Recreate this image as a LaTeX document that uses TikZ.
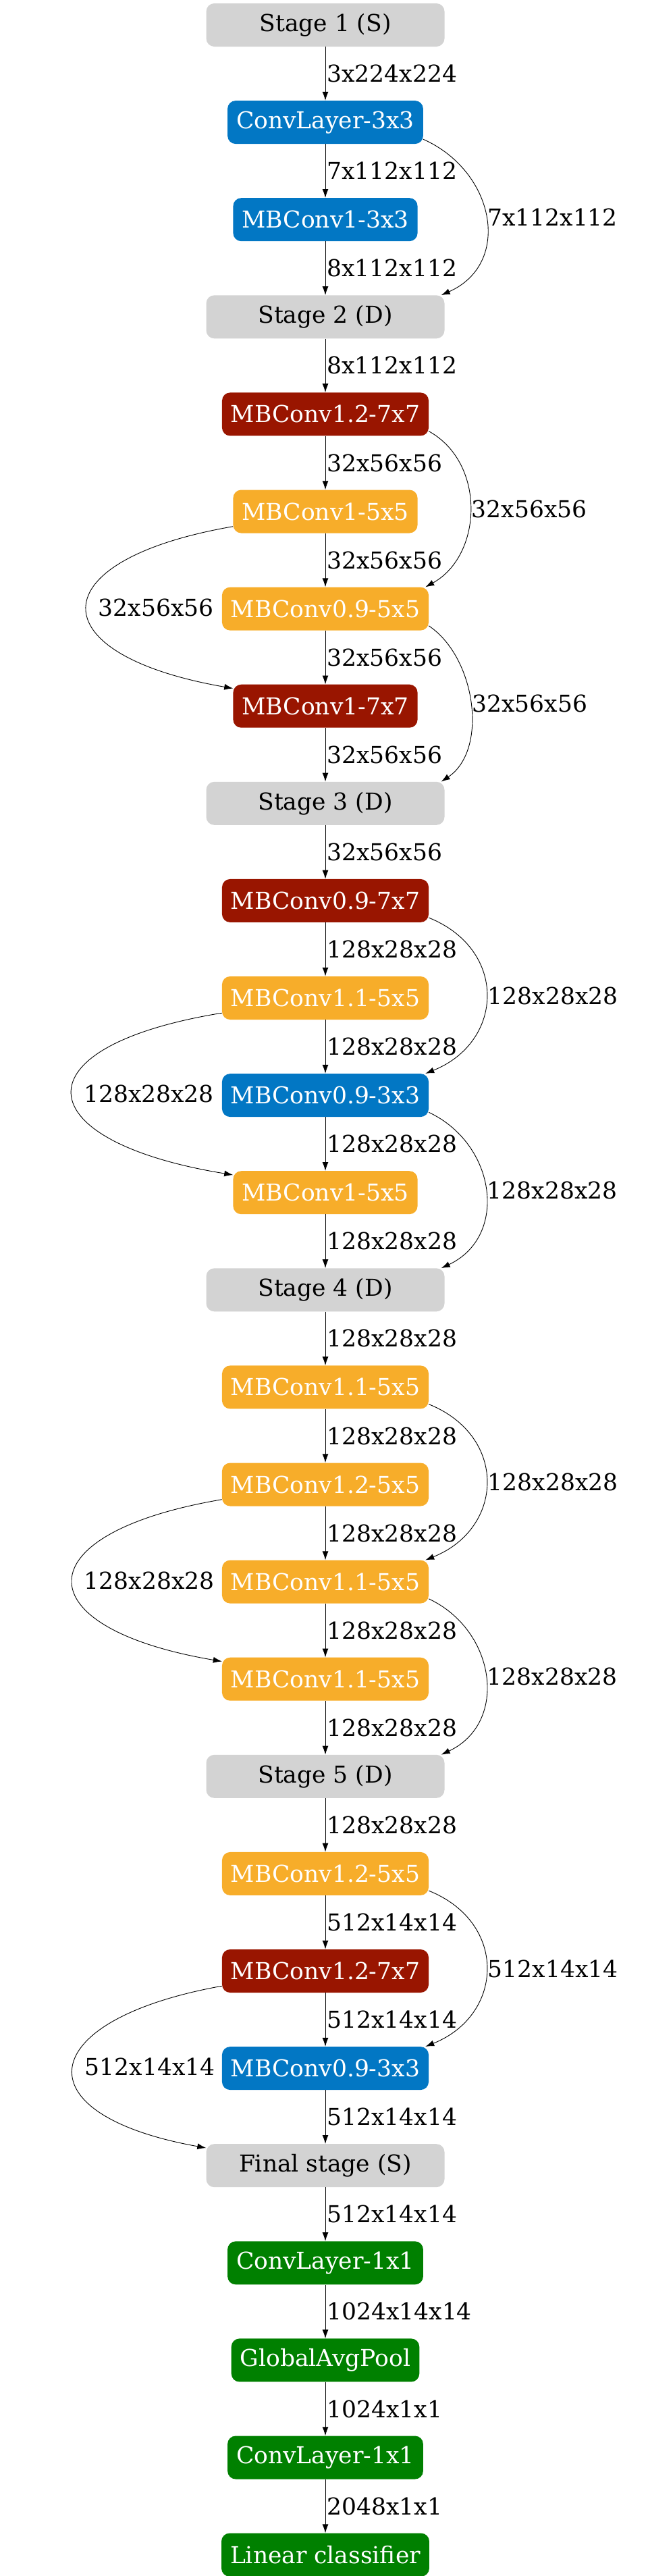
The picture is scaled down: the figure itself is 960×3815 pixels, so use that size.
\documentclass[tikz,border=0pt]{standalone}
\usepackage{fontspec}
\setmainfont{DejaVu Serif}
\usetikzlibrary{arrows.meta}
\definecolor{stagegray}{RGB}{211,211,211}
\definecolor{convblue}{RGB}{2,119,196}
\definecolor{convred}{RGB}{153,21,0}
\definecolor{convorange}{RGB}{247,173,42}
\definecolor{headgreen}{RGB}{0,128,0}
\tikzset{
	box/.style={rounded corners=12pt, minimum height=64pt, inner xsep=13pt, text=white, font=\fontsize{34.5}{40}\selectfont},
	stagebox/.style={box, fill=stagegray, text=black, minimum width=353pt},
	bluebox/.style={box, fill=convblue},
	redbox/.style={box, fill=convred},
	orangebox/.style={box, fill=convorange},
	greenbox/.style={box, fill=headgreen},
	flow/.style={-{Latex[length=13pt,width=9pt]}, line width=0.9pt},
	lbl/.style={inner sep=2pt, font=\fontsize{34.5}{40}\selectfont}
}

\begin{document}
\begin{tikzpicture}[x=1pt,y=-1pt]
	\useasboundingbox (0,0) rectangle (960,3815);
	% stage 1
	\node[stagebox] (s1) at (482,37) {Stage 1 (S)};
	\node[bluebox] (s1a) at (482,181.1) {ConvLayer-3x3};
	\node[bluebox] (s1b) at (482,325.2) {MBConv1-3x3};
	% stage 2
	\node[stagebox] (s2) at (482,469.3) {Stage 2 (D)};
	\node[redbox] (s2a) at (482,613.4) {MBConv1.2-7x7};
	\node[orangebox] (s2b) at (482,757.5) {MBConv1-5x5};
	\node[orangebox] (s2c) at (482,901.6) {MBConv0.9-5x5};
	\node[redbox] (s2d) at (482,1045.7) {MBConv1-7x7};
	% stage 3
	\node[stagebox] (s3) at (482,1189.8) {Stage 3 (D)};
	\node[redbox] (s3a) at (482,1333.9) {MBConv0.9-7x7};
	\node[orangebox] (s3b) at (482,1478) {MBConv1.1-5x5};
	\node[bluebox] (s3c) at (482,1622.1) {MBConv0.9-3x3};
	\node[orangebox] (s3d) at (482,1766.2) {MBConv1-5x5};
	% stage 4
	\node[stagebox] (s4) at (482,1910.3) {Stage 4 (D)};
	\node[orangebox] (s4a) at (482,2054.4) {MBConv1.1-5x5};
	\node[orangebox] (s4b) at (482,2198.5) {MBConv1.2-5x5};
	\node[orangebox] (s4c) at (482,2342.6) {MBConv1.1-5x5};
	\node[orangebox] (s4d) at (482,2486.7) {MBConv1.1-5x5};
	% stage 5
	\node[stagebox] (s5) at (482,2630.8) {Stage 5 (D)};
	\node[orangebox] (s5a) at (482,2774.9) {MBConv1.2-5x5};
	\node[redbox] (s5b) at (482,2919) {MBConv1.2-7x7};
	\node[bluebox] (s5c) at (482,3063.1) {MBConv0.9-3x3};
	% final stage
	\node[stagebox] (fin) at (482,3207.2) {Final stage (S)};
	\node[greenbox] (fa) at (482,3351.3) {ConvLayer-1x1};
	\node[greenbox] (fb) at (482,3495.4) {GlobalAvgPool};
	\node[greenbox] (fc) at (482,3639.5) {ConvLayer-1x1};
	\node[greenbox] (fd) at (482,3783.6) {Linear classifier};

	% main chain
	\draw[flow] (s1) -- node[lbl,right]{3x224x224} (s1a);
	\draw[flow] (s1a) -- node[lbl,right]{7x112x112} (s1b);
	\draw[flow] (s1b) -- node[lbl,right]{8x112x112} (s2);
	\draw[flow] (s2) -- node[lbl,right]{8x112x112} (s2a);
	\draw[flow] (s2a) -- node[lbl,right]{32x56x56} (s2b);
	\draw[flow] (s2b) -- node[lbl,right]{32x56x56} (s2c);
	\draw[flow] (s2c) -- node[lbl,right]{32x56x56} (s2d);
	\draw[flow] (s2d) -- node[lbl,right]{32x56x56} (s3);
	\draw[flow] (s3) -- node[lbl,right]{32x56x56} (s3a);
	\draw[flow] (s3a) -- node[lbl,right]{128x28x28} (s3b);
	\draw[flow] (s3b) -- node[lbl,right]{128x28x28} (s3c);
	\draw[flow] (s3c) -- node[lbl,right]{128x28x28} (s3d);
	\draw[flow] (s3d) -- node[lbl,right]{128x28x28} (s4);
	\draw[flow] (s4) -- node[lbl,right]{128x28x28} (s4a);
	\draw[flow] (s4a) -- node[lbl,right]{128x28x28} (s4b);
	\draw[flow] (s4b) -- node[lbl,right]{128x28x28} (s4c);
	\draw[flow] (s4c) -- node[lbl,right]{128x28x28} (s4d);
	\draw[flow] (s4d) -- node[lbl,right]{128x28x28} (s5);
	\draw[flow] (s5) -- node[lbl,right]{128x28x28} (s5a);
	\draw[flow] (s5a) -- node[lbl,right]{512x14x14} (s5b);
	\draw[flow] (s5b) -- node[lbl,right]{512x14x14} (s5c);
	\draw[flow] (s5c) -- node[lbl,right]{512x14x14} (fin);
	\draw[flow] (fin) -- node[lbl,right]{512x14x14} (fa);
	\draw[flow] (fa) -- node[lbl,right]{1024x14x14} (fb);
	\draw[flow] (fb) -- node[lbl,right]{1024x1x1} (fc);
	\draw[flow] (fc) -- node[lbl,right]{2048x1x1} (fd);

	% skip connections, right side
	\draw[flow] ([yshift=7pt]s1a.south east) .. controls +(106,47) and +(106,-47) .. ([xshift=-5pt]s2.north east) node[lbl,midway,right]{7x112x112};
	\draw[flow] ([yshift=7pt]s2a.south east) .. controls +(85,47) and +(85,-47) .. ([xshift=-5pt]s2c.north east) node[lbl,midway,right]{32x56x56};
	\draw[flow] ([yshift=7pt]s2c.south east) .. controls +(70,47) and +(70,-47) .. ([xshift=-5pt]s3.north east) node[lbl,midway,right]{32x56x56};
	\draw[flow] ([yshift=7pt]s3a.south east) .. controls +(117,47) and +(117,-47) .. ([xshift=-5pt]s3c.north east) node[lbl,midway,right]{128x28x28};
	\draw[flow] ([yshift=7pt]s3c.south east) .. controls +(100,47) and +(100,-47) .. ([xshift=-5pt]s4.north east) node[lbl,midway,right]{128x28x28};
	\draw[flow] ([yshift=7pt]s4a.south east) .. controls +(117,47) and +(117,-47) .. ([xshift=-5pt]s4c.north east) node[lbl,midway,right]{128x28x28};
	\draw[flow] ([yshift=7pt]s4c.south east) .. controls +(100,47) and +(100,-47) .. ([xshift=-5pt]s5.north east) node[lbl,midway,right]{128x28x28};
	\draw[flow] ([yshift=7pt]s5a.south east) .. controls +(117,47) and +(117,-47) .. ([xshift=-5pt]s5c.north east) node[lbl,midway,right]{512x14x14};
	% skip connections, left side
	\draw[flow] ([yshift=10pt]s2b.south west) .. controls +(-289,50) and +(-289,-50) .. ([yshift=-6pt]s2d.north west) node[lbl,midway,right=15pt]{32x56x56};
	\draw[flow] ([yshift=10pt]s3b.south west) .. controls +(-307,50) and +(-307,-50) .. ([yshift=-6pt]s3d.north west) node[lbl,midway,right=15pt]{128x28x28};
	\draw[flow] ([yshift=10pt]s4b.south west) .. controls +(-295,50) and +(-295,-50) .. ([yshift=-6pt]s4d.north west) node[lbl,midway,right=15pt]{128x28x28};
	\draw[flow] ([yshift=10pt]s5b.south west) .. controls +(-278,50) and +(-278,-50) .. ([yshift=-6pt]fin.north west) node[lbl,midway,right=15pt]{512x14x14};
\end{tikzpicture}
\end{document}
